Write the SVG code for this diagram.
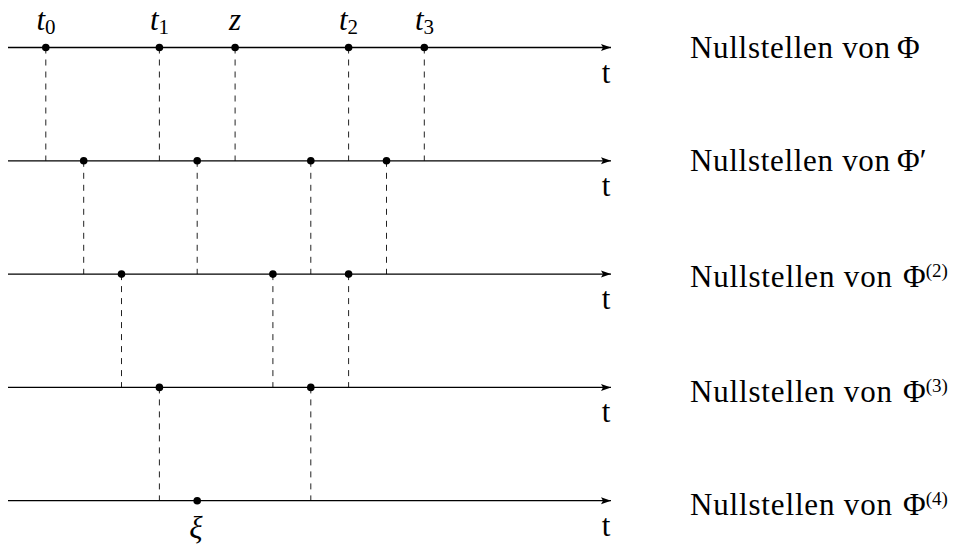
<svg xmlns="http://www.w3.org/2000/svg" width="955" height="547" viewBox="0 0 955 547">
  <style>
    .axis { stroke: #000; stroke-width: 1.3; fill: none; }
    .dash { stroke: #222; stroke-width: 1; stroke-dasharray: 6 6; fill: none; }
    .dot { fill: #000; }
  </style>
  <defs>
    <marker id="arr" markerUnits="userSpaceOnUse" markerWidth="12" markerHeight="10" refX="10" refY="4" orient="auto">
      <path d="M0,0.5 L10,4 L0,7.5 L2,4 Z" fill="#000"/>
    </marker>
  </defs>
  <rect width="955" height="547" fill="#fff"/>

  <g id="connectors">
    <line class="dash" x1="45.8" y1="47.5" x2="45.8" y2="160.8"/>
    <line class="dash" x1="159.4" y1="47.5" x2="159.4" y2="160.8"/>
    <line class="dash" x1="235.1" y1="47.5" x2="235.1" y2="160.8"/>
    <line class="dash" x1="348.6" y1="47.5" x2="348.6" y2="160.8"/>
    <line class="dash" x1="424.3" y1="47.5" x2="424.3" y2="160.8"/>
    <line class="dash" x1="83.7" y1="160.8" x2="83.7" y2="274.1"/>
    <line class="dash" x1="197.2" y1="160.8" x2="197.2" y2="274.1"/>
    <line class="dash" x1="310.8" y1="160.8" x2="310.8" y2="274.1"/>
    <line class="dash" x1="386.5" y1="160.8" x2="386.5" y2="274.1"/>
    <line class="dash" x1="121.5" y1="274.1" x2="121.5" y2="387.4"/>
    <line class="dash" x1="272.9" y1="274.1" x2="272.9" y2="387.4"/>
    <line class="dash" x1="348.6" y1="274.1" x2="348.6" y2="387.4"/>
    <line class="dash" x1="159.4" y1="387.4" x2="159.4" y2="500.7"/>
    <line class="dash" x1="310.8" y1="387.4" x2="310.8" y2="500.7"/>
  </g>

  <g id="row0">
    <line class="axis" x1="8" y1="47.5" x2="611" y2="47.5" marker-end="url(#arr)"/>
    <circle class="dot" cx="45.8" cy="47.5" r="3.8"/>
    <circle class="dot" cx="159.4" cy="47.5" r="3.8"/>
    <circle class="dot" cx="235.1" cy="47.5" r="3.8"/>
    <circle class="dot" cx="348.6" cy="47.5" r="3.8"/>
    <circle class="dot" cx="424.3" cy="47.5" r="3.8"/>
    <text x="46" y="30" text-anchor="middle" font-family="Liberation Serif" font-size="31" font-style="italic">t<tspan font-size="21" font-style="normal" dy="4">0</tspan></text>
    <text x="159.5" y="30" text-anchor="middle" font-family="Liberation Serif" font-size="31" font-style="italic">t<tspan font-size="21" font-style="normal" dy="4">1</tspan></text>
    <text x="235" y="30" text-anchor="middle" font-family="Liberation Serif" font-size="31" font-style="italic">z</text>
    <text x="348.5" y="30" text-anchor="middle" font-family="Liberation Serif" font-size="31" font-style="italic">t<tspan font-size="21" font-style="normal" dy="4">2</tspan></text>
    <text x="424.5" y="30" text-anchor="middle" font-family="Liberation Serif" font-size="31" font-style="italic">t<tspan font-size="21" font-style="normal" dy="4">3</tspan></text>
    <text x="606" y="82.5" text-anchor="middle" font-family="Liberation Serif" font-size="31">t</text>
    <text x="690" y="58" font-family="Liberation Serif" font-size="31"><tspan textLength="200" lengthAdjust="spacing">Nullstellen von</tspan><tspan x="897">Φ</tspan></text>
  </g>

  <g id="row1">
    <line class="axis" x1="8" y1="160.8" x2="611" y2="160.8" marker-end="url(#arr)"/>
    <circle class="dot" cx="83.7" cy="160.8" r="3.8"/>
    <circle class="dot" cx="197.2" cy="160.8" r="3.8"/>
    <circle class="dot" cx="310.8" cy="160.8" r="3.8"/>
    <circle class="dot" cx="386.5" cy="160.8" r="3.8"/>
    <text x="606" y="195.8" text-anchor="middle" font-family="Liberation Serif" font-size="31">t</text>
    <text x="690" y="171" font-family="Liberation Serif" font-size="31"><tspan textLength="200" lengthAdjust="spacing">Nullstellen von</tspan><tspan x="897">Φ′</tspan></text>
  </g>

  <g id="row2">
    <line class="axis" x1="8" y1="274.1" x2="611" y2="274.1" marker-end="url(#arr)"/>
    <circle class="dot" cx="121.5" cy="274.1" r="3.8"/>
    <circle class="dot" cx="272.9" cy="274.1" r="3.8"/>
    <circle class="dot" cx="348.6" cy="274.1" r="3.8"/>
    <text x="606" y="309" text-anchor="middle" font-family="Liberation Serif" font-size="31">t</text>
    <text x="690" y="287" font-family="Liberation Serif" font-size="31"><tspan textLength="202" lengthAdjust="spacing">Nullstellen von</tspan><tspan x="903">Φ</tspan><tspan font-size="19" dy="-10">(2)</tspan></text>
  </g>

  <g id="row3">
    <line class="axis" x1="8" y1="387.4" x2="611" y2="387.4" marker-end="url(#arr)"/>
    <circle class="dot" cx="159.4" cy="387.4" r="3.8"/>
    <circle class="dot" cx="310.8" cy="387.4" r="3.8"/>
    <text x="606" y="422.3" text-anchor="middle" font-family="Liberation Serif" font-size="31">t</text>
    <text x="690" y="402" font-family="Liberation Serif" font-size="31"><tspan textLength="202" lengthAdjust="spacing">Nullstellen von</tspan><tspan x="903">Φ</tspan><tspan font-size="19" dy="-10">(3)</tspan></text>
  </g>

  <g id="row4">
    <line class="axis" x1="8" y1="500.7" x2="611" y2="500.7" marker-end="url(#arr)"/>
    <circle class="dot" cx="197.2" cy="500.7" r="3.8"/>
    <text x="196" y="538" text-anchor="middle" font-family="Liberation Serif" font-size="31" font-style="italic">ξ</text>
    <text x="606" y="535.6" text-anchor="middle" font-family="Liberation Serif" font-size="31">t</text>
    <text x="690" y="515" font-family="Liberation Serif" font-size="31"><tspan textLength="202" lengthAdjust="spacing">Nullstellen von</tspan><tspan x="903">Φ</tspan><tspan font-size="19" dy="-10">(4)</tspan></text>
  </g>
</svg>
